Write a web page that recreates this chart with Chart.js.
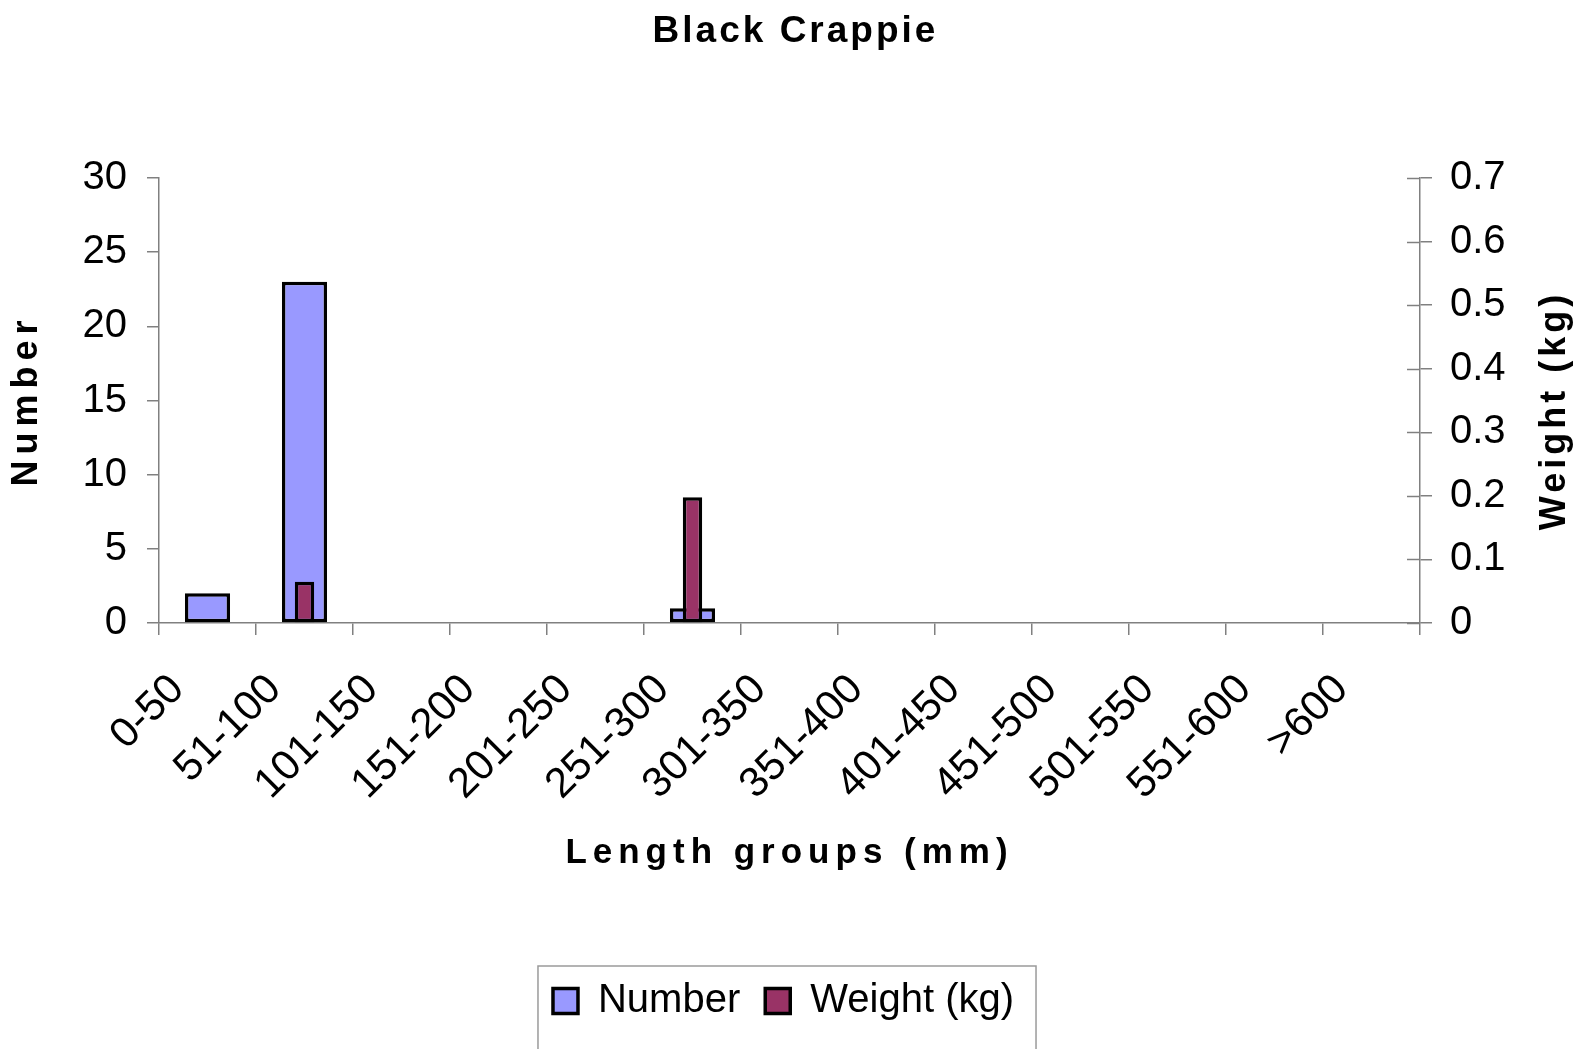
<!DOCTYPE html>
<html>
<head>
<meta charset="utf-8">
<title>Black Crappie</title>
<script src="https://cdn.jsdelivr.net/npm/chart.js@4.4.1/dist/chart.umd.min.js"></script>
<style>
  html, body { margin: 0; padding: 0; background: #fff; }
  #wrap { width: 1591px; height: 1049px; }
</style>
</head>
<body>
<div id="wrap"><canvas id="myChart"></canvas></div>
<script>
const lengthGroups = ['0-50', '51-100', '101-150', '151-200', '201-250', '251-300', '301-350',
                      '351-400', '401-450', '451-500', '501-550', '551-600', '>600'];
const numberValues = [2, 23, 0, 0, 0, 1, 0, 0, 0, 0, 0, 0, 0];
const weightValues = [0, 0.065, 0, 0, 0, 0.198, 0, 0, 0, 0, 0, 0, 0];
const numberTicks = [0, 5, 10, 15, 20, 25, 30];
const weightTicks = [0, 0.1, 0.2, 0.3, 0.4, 0.5, 0.6, 0.7];

const FONT = "'Liberation Sans', Arial, sans-serif";
const axisGrey = '#808080';

// wraps a title drawing function so Excel-ish letter spacing can be applied
function spaced(obj, fnName, spacing) {
  if (!obj || !obj[fnName] || obj['_sp_' + fnName]) return;
  const orig = obj[fnName];
  obj[fnName] = function() {
    const ctx = this.ctx;
    ctx.save();
    ctx.letterSpacing = spacing;
    const r = orig.apply(this, arguments);
    ctx.restore();
    return r;
  };
  obj['_sp_' + fnName] = true;
}

const letterSpacingPlugin = {
  id: 'letterSpacing',
  beforeDraw(chart) {
    spaced(chart.titleBlock, 'draw', '3px');
    spaced(chart.scales.x, 'drawTitle', '6px');
    spaced(chart.scales.y, 'drawTitle', '6px');
  }
};

// legend sits a little left of the middle in the original
const legendShift = {
  id: 'legendShift',
  afterLayout(chart) {
    chart.legend.left -= 12;
    chart.legend.right -= 12;
  }
};

// right axis: title reads bottom-to-top (like Excel) and tick marks cross the axis
const rightAxisExtras = {
  id: 'rightAxisExtras',
  afterDraw(chart) {
    const s = chart.scales.y1;
    const ctx = chart.ctx;
    ctx.save();
    ctx.strokeStyle = axisGrey;
    ctx.lineWidth = 1.5;
    s.ticks.forEach(t => {
      const y = Math.round(s.getPixelForValue(t.value)) + 0.5;
      ctx.beginPath();
      ctx.moveTo(s.left - 13, y);
      ctx.lineTo(s.left, y);
      ctx.stroke();
    });
    ctx.translate(1555, (chart.chartArea.top + chart.chartArea.bottom) / 2 + 10);
    ctx.rotate(-Math.PI / 2);
    ctx.letterSpacing = '4px';
    ctx.font = 'bold 36px ' + FONT;
    ctx.fillStyle = '#000';
    ctx.textAlign = 'center';
    ctx.textBaseline = 'middle';
    ctx.fillText('Weight (kg)', 0, 0);
    ctx.restore();
  }
};

// box round the legend, like the Excel one
const legendBox = {
  id: 'legendBox',
  afterDraw(chart) {
    const lg = chart.legend;
    const boxes = lg.legendHitBoxes;
    if (!boxes || !boxes.length) return;
    let l = Infinity, r = -Infinity, t = Infinity;
    boxes.forEach(b => {
      l = Math.min(l, b.left);
      r = Math.max(r, b.left + b.width);
      t = Math.min(t, b.top);
    });
    const mid = (lg.left + lg.right) / 2;
    const w = (r - l) + 37;
    const ctx = chart.ctx;
    ctx.save();
    ctx.strokeStyle = '#9a9a9a';
    ctx.lineWidth = 1.5;
    ctx.strokeRect(mid - (r - l) / 2 - 15, t - 15, w, 140);
    ctx.restore();
  }
};

new Chart('myChart', {
  type: 'bar',
  data: {
    labels: lengthGroups,
    datasets: [{
      label: 'Number',
      data: numberValues,
      yAxisID: 'y',
      backgroundColor: '#9999FF',
      borderColor: '#000000',
      borderWidth: 3.5,
      borderSkipped: false,
      grouped: false,
      categoryPercentage: 1,
      barPercentage: 0.465,
      order: 1
    }, {
      label: 'Weight (kg)',
      data: weightValues,
      yAxisID: 'y1',
      backgroundColor: '#993366',
      borderColor: '#000000',
      borderWidth: 3.5,
      borderSkipped: false,
      grouped: false,
      categoryPercentage: 1,
      barPercentage: 0.2,
      order: 0
    }]
  },
  options: {
    responsive: true,
    maintainAspectRatio: false,
    animation: false,
    layout: { padding: { left: 0, right: 0, top: 0, bottom: 18 } },
    plugins: {
      title: {
        display: true,
        text: 'Black Crappie',
        color: '#000',
        font: { family: FONT, size: 37, weight: 'bold', lineHeight: 1.2 },
        padding: { top: 10, bottom: 123.6 }
      },
      legend: {
        display: true,
        position: 'bottom',
        labels: {
          color: '#000',
          font: { family: FONT, size: 40 },
          boxWidth: 25,
          boxHeight: 25,
          padding: 25,
          sort: (a, b) => a.datasetIndex - b.datasetIndex
        }
      },
      tooltip: { enabled: false }
    },
    scales: {
      x: {
        offset: true,
        afterFit: axis => { axis.height = 333; },
        grid: {
          offset: true,
          drawOnChartArea: false,
          color: axisGrey,
          lineWidth: 1.5,
          tickLength: 12
        },
        border: { color: axisGrey, width: 1.5 },
        ticks: {
          color: '#000',
          font: { family: FONT, size: 42 },
          minRotation: 45,
          maxRotation: 45,
          autoSkip: false,
          padding: 30,
          labelOffset: -30
        },
        title: {
          display: true,
          text: 'Length groups (mm)',
          color: '#000',
          font: { family: FONT, size: 35, weight: 'bold', lineHeight: 1.2 },
          padding: { top: 20, bottom: 82 }
        }
      },
      y: {
        position: 'left',
        min: 0,
        max: 30,
        afterBuildTicks: axis => { axis.ticks = numberTicks.map(v => ({ value: v })); },
        afterFit: axis => { axis.width = 159; },
        grid: { drawOnChartArea: false, color: axisGrey, lineWidth: 1.5, tickLength: 12 },
        border: { color: axisGrey, width: 1.5 },
        ticks: {
          color: '#000',
          font: { family: FONT, size: 40 },
          padding: 20
        },
        title: {
          display: true,
          text: 'Number',
          color: '#000',
          font: { family: FONT, size: 36, weight: 'bold', lineHeight: 1.2 },
          padding: { top: 5, bottom: 10 }
        }
      },
      y1: {
        position: 'right',
        min: 0,
        max: 0.7,
        afterBuildTicks: axis => { axis.ticks = weightTicks.map(v => ({ value: v })); },
        afterFit: axis => { axis.width = 171; },
        grid: { drawOnChartArea: false, color: axisGrey, lineWidth: 1.5, tickLength: 12 },
        border: { color: axisGrey, width: 1.5 },
        ticks: {
          color: '#000',
          font: { family: FONT, size: 40 },
          padding: 18
        },
        title: { display: false }
      }
    }
  },
  plugins: [letterSpacingPlugin, legendShift, rightAxisExtras, legendBox]
});
</script>
</body>
</html>
